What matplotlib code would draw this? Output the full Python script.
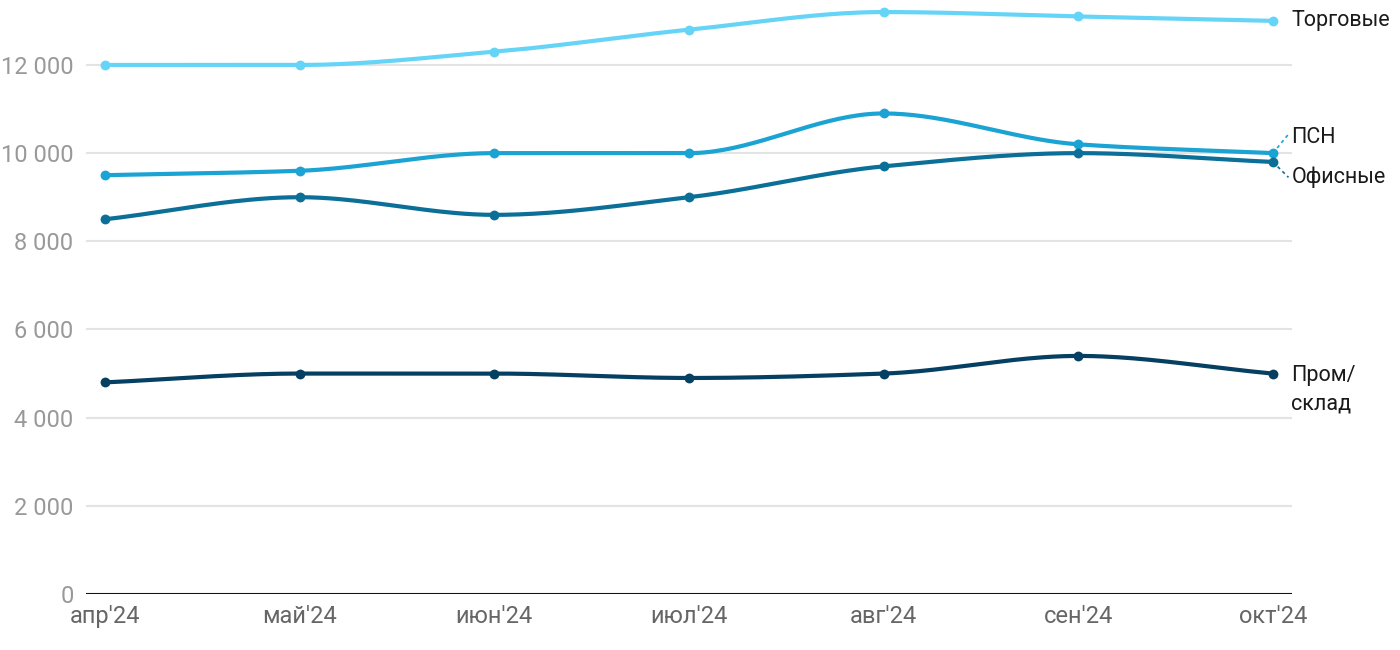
import numpy as np
import matplotlib.pyplot as plt

plt.rcParams['font.family'] = ['Roboto', 'DejaVu Sans']

# Data ============================================================================================
months = ["апр'24", "май'24", "июн'24", "июл'24", "авг'24", "сен'24", "окт'24"]
trade = [12000, 12000, 12300, 12800, 13200, 13100, 13000]
psn = [9500, 9600, 10000, 10000, 10900, 10200, 10000]
office = [8500, 9000, 8600, 9000, 9700, 10000, 9800]
warehouse = [4800, 5000, 5000, 4900, 5000, 5400, 5000]

series = [
    (trade, "#66d4f7", "Торговые"),
    (psn, "#1ba3d3", "ПСН"),
    (office, "#0b6f98", "Офисные"),
    (warehouse, "#053f62", "Пром/\nсклад"),
]


def monotone(x, y, n=40):
    """Monotone cubic (Fritsch-Carlson) interpolation for a smooth line."""
    x = np.asarray(x, float)
    y = np.asarray(y, float)
    h = np.diff(x)
    d = np.diff(y) / h
    m = np.zeros_like(y)
    m[0], m[-1] = d[0], d[-1]
    for i in range(1, len(y) - 1):
        if d[i - 1] * d[i] <= 0:
            m[i] = 0
        else:
            m[i] = 3 * (h[i - 1] + h[i]) / ((2 * h[i] + h[i - 1]) / d[i - 1] + (h[i] + 2 * h[i - 1]) / d[i])
    xs, ys = [], []
    for i in range(len(x) - 1):
        t = np.linspace(0, 1, n)
        h00 = 2 * t**3 - 3 * t**2 + 1
        h10 = t**3 - 2 * t**2 + t
        h01 = -2 * t**3 + 3 * t**2
        h11 = t**3 - t**2
        xs.append(x[i] + t * h[i])
        ys.append(h00 * y[i] + h10 * h[i] * m[i] + h01 * y[i + 1] + h11 * h[i] * m[i + 1])
    return np.concatenate(xs), np.concatenate(ys)


# Plot ============================================================================================
fig = plt.figure(figsize=(14, 6.5), dpi=100)
ax = fig.add_axes([86 / 1400, 1 - 594 / 650, (1292 - 86) / 1400, 589 / 650])

x = np.arange(len(months))
for vals, color, name in series:
    xs, ys = monotone(x, vals)
    ax.plot(xs, ys, color=color, lw=3, solid_capstyle='round', zorder=3)
    ax.scatter(x, vals, s=50, color=color, zorder=4, linewidths=0)

ax.set_xlim(-0.098, 6.098)
ax.set_ylim(0, 13360)
ax.set_yticks(range(0, 13000, 2000))
ax.set_yticklabels([f"{v:,}".replace(",", " ") for v in range(0, 13000, 2000)])
ax.set_xticks(x)
ax.set_xticklabels(months)
ax.grid(axis='y', color='#e3e3e3', lw=1.5, zorder=0)
ax.axhline(0, color='#111111', lw=2.2, zorder=2)
for s in ax.spines.values():
    s.set_visible(False)
ax.tick_params(axis='y', length=0, pad=9, labelsize=17, labelcolor='#999999')
ax.tick_params(axis='x', length=0, pad=8, labelsize=17, labelcolor='#666666')

# right-side labels
lx = 6.095
fs = 15.5
ax.text(lx, trade[-1], "Торговые", fontsize=fs, color='#1a1a1a', va='center', ha='left')
ax.text(lx, 10350, "ПСН", fontsize=fs, color='#1a1a1a', va='center', ha='left')
ax.text(lx, 9450, "Офисные", fontsize=fs, color='#1a1a1a', va='center', ha='left')
ax.text(lx, warehouse[-1] - 370, "Пром/\nсклад", fontsize=fs, color='#1a1a1a', va='center',
        ha='left', linespacing=1.5)
ax.plot([6, 6.08], [psn[-1], 10430], ls=(0, (2, 2)), color=series[1][1], lw=1.2, clip_on=False)
ax.plot([6, 6.08], [office[-1], 9450], ls=(0, (2, 2)), color=series[2][1], lw=1.2, clip_on=False)

fig.savefig("out.png", dpi=100)
